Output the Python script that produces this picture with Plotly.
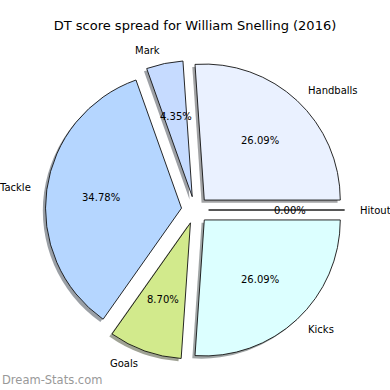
import math
import plotly.graph_objects as go

labels = ["Handballs", "Mark", "Tackle", "Goals", "Kicks", "Hitout"]
values = [6, 1, 8, 2, 6, 0]
colors = ["#eaf1ff", "#c6dbff", "#b5d6ff", "#d2ea8c", "#dcffff", "#ffffff"]
title_text = "DT score spread for William Snelling (2016)"
watermark = "Dream-Stats.com"

W = H = 390
CX, CY, R = 195.0, 210.0, 136.0   # pie centre / radius in px
PULL = 0.1
SH = 2.7                          # shadow offset px
total = sum(values)
ROT = 90 - 360.0 * values[0] / total   # first slice starts at 3 o'clock, ccw

def dom(cx, cy):
    rr = R * (1 + PULL)
    return dict(x=[(cx - rr) / W, (cx + rr) / W],
                y=[1 - (cy + rr) / H, 1 - (cy - rr) / H])

def shade(hexc):
    h = hexc.lstrip("#")
    r, g, b = (int(h[i:i + 2], 16) for i in (0, 2, 4))
    return "rgba(%d,%d,%d,0.5)" % (r * 0.3, g * 0.3, b * 0.3)

fig = go.Figure()
common = dict(labels=labels, values=values, sort=False, direction="counterclockwise",
              rotation=ROT, pull=[PULL] * len(values), textinfo="none", hoverinfo="skip",
              showlegend=False)
fig.add_trace(go.Pie(domain=dom(CX - SH, CY + SH),
                     marker=dict(colors=[shade(c) for c in colors], line=dict(width=0)),
                     **common))
fig.add_trace(go.Pie(domain=dom(CX, CY),
                     marker=dict(colors=colors, line=dict(color="#111111", width=0.9)),
                     **common))

annotations = []
start = 0.0
for lab, v in zip(labels, values):
    span = 360.0 * v / total
    mid = math.radians(start + span / 2)
    start += span
    c, s = math.cos(mid), math.sin(mid)
    lx, ly = CX + 1.2 * R * c, CY - 1.2 * R * s
    px, py = CX + 0.7 * R * c, CY - 0.7 * R * s
    annotations.append(dict(x=lx / W, y=1 - ly / H, xref="paper", yref="paper",
                            text=lab, showarrow=False, xanchor="left" if c > 0 else "right",
                            yanchor="middle", font=dict(size=10, color="#000000")))
    annotations.append(dict(x=px / W, y=1 - py / H, xref="paper", yref="paper",
                            text="%.2f%%" % (100.0 * v / total), showarrow=False,
                            xanchor="center", yanchor="middle",
                            font=dict(size=10, color="#000000")))

annotations.append(dict(x=0, y=1 - 380 / H, xref="paper", yref="paper", text=watermark,
                        showarrow=False, xanchor="left", yanchor="middle",
                        font=dict(size=11.5, color="#999999", family="DejaVu Sans")))

fig.update_layout(
    width=W, height=H, margin=dict(l=0, r=0, t=0, b=0),
    paper_bgcolor="white", plot_bgcolor="white",
    font=dict(family="DejaVu Sans", color="#000000"),
    title=dict(text=title_text, x=0.5, xanchor="center", y=1 - 25 / H, yanchor="middle",
               font=dict(size=13, color="#000000")),
    annotations=annotations,
)
fig.write_html("out.html", config={"displayModeBar": False},
               post_script="document.body.style.margin='0';document.body.style.overflow='hidden';")
